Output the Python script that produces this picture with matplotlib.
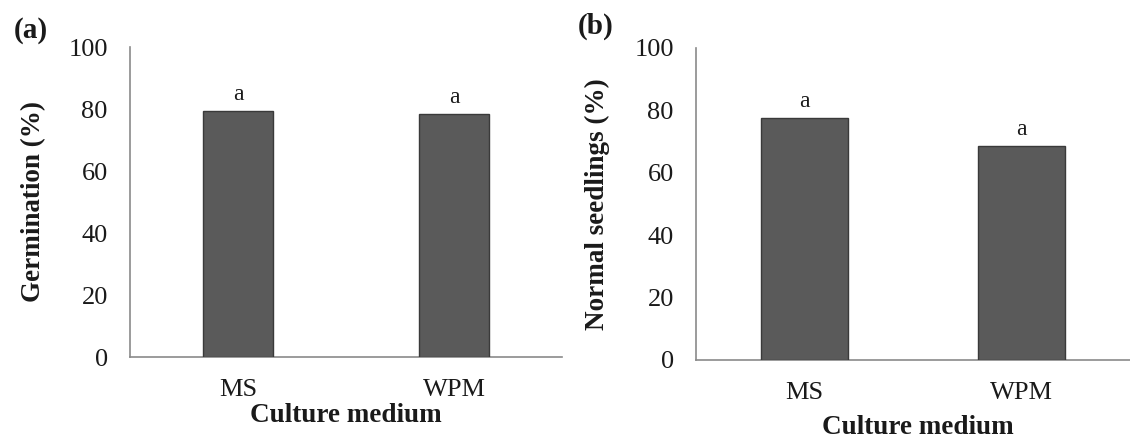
import matplotlib
matplotlib.use("Agg")
import matplotlib.pyplot as plt

plt.rcParams['font.family'] = ['Liberation Serif', 'DejaVu Serif']

categories = ["MS", "WPM"]
germination = [79.4, 78.4]
normal_seedlings = [77.7, 68.7]
letters_a = ["a", "a"]
letters_b = ["a", "a"]
yticks = [0, 20, 40, 60, 80, 100]

BAR = "#5a5a5a"
EDGE = "#3a3a3a"
AXC = "#8a8a8a"
TXT = "#1a1a1a"

W, H = 1130, 443
fig = plt.figure(figsize=(W / 100, H / 100), dpi=100)


def panel(px_rect, values, letters, width, ylabel, tag, tagpos, ylab_cx, xlab_cx, xlab_cy):
    l, r, b, t = px_rect
    ax = fig.add_axes([l / W, 1 - b / H, (r - l) / W, (b - t) / H])
    x = list(range(len(categories)))
    ax.bar(x, values, width=width, color=BAR, edgecolor=EDGE, linewidth=1.0, zorder=3)
    for xi, v, lt in zip(x, values, letters):
        ax.annotate(lt, (xi, v), xytext=(0, 4), textcoords="offset points",
                    ha="center", va="bottom", fontsize=17, color=TXT)
    ax.set_xlim(-0.5, 1.5)
    ax.set_ylim(0, 100)
    ax.set_yticks(yticks)
    ax.set_xticks(x)
    ax.set_xticklabels(categories)
    for s in ["top", "right"]:
        ax.spines[s].set_visible(False)
    for s in ["left", "bottom"]:
        ax.spines[s].set_color(AXC)
        ax.spines[s].set_linewidth(1.2)
    ax.tick_params(axis="y", length=0, pad=16, labelsize=19, labelcolor=TXT)
    ax.tick_params(axis="x", length=0, pad=16, labelsize=19, labelcolor=TXT)
    ax.set_ylabel(ylabel, fontsize=19.5, fontweight="bold", color=TXT, va="center")
    ax.yaxis.set_label_coords((ylab_cx - l) / (r - l), 0.5)
    ax.set_xlabel("Culture medium", fontsize=19.5, fontweight="bold", color=TXT, va="center")
    ax.xaxis.set_label_coords((xlab_cx - l) / (r - l), (b - xlab_cy) / (b - t))
    fig.text(tagpos[0] / W, 1 - tagpos[1] / H, tag, fontsize=21, fontweight="bold",
             color=TXT, ha="center", va="center")
    return ax


# Panel (a): pixel rect (left, right, bottom, top)
panel((130, 562, 357, 47), germination, letters_a, 0.32, "Germination (%)",
      "(a)", (31, 30), 34, 346, 415)
# Panel (b)
panel((696, 1130, 360, 48), normal_seedlings, letters_b, 0.40, "Normal seedlings (%)",
      "(b)", (596, 26), 597, 918, 428)

fig.savefig("out.png", dpi=100, facecolor="white")
